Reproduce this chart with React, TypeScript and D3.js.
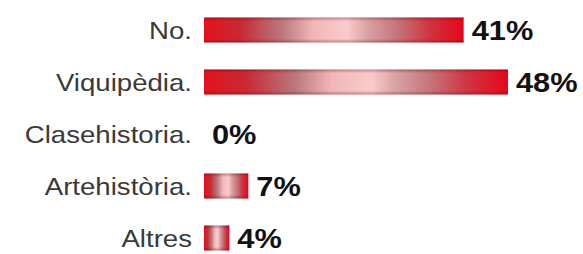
import React, { useEffect, useRef } from "react";
import * as d3 from "d3";

// survey results, percent
const categories = ["No.", "Viquipèdia.", "Clasehistoria.", "Artehistòria.", "Altres"];
const values = [41, 48, 0, 7, 4];

const W = 583;
const H = 254;

const App = () => {
    const container = useRef<SVGSVGElement>(null);

    useEffect(() => {
        const svg = d3.select(container.current);
        svg.selectAll("*").remove();

        const y = d3.scalePoint<string>()
            .domain(categories)
            .range([30, 238]);

        const x = d3.scaleLinear()
            .domain([0, 48])
            .range([204, 508]);

        const barH = 25;

        // bar fill: red ends, washed-out pink middle
        const defs = svg.append("defs");
        const grad = defs.append("linearGradient")
            .attr("id", "barGrad")
            .attr("x1", "0").attr("x2", "1").attr("y1", "0").attr("y2", "0");
        const stops: [number, string][] = [
            [0, "#e3121c"],
            [0.14, "#c82a34"],
            [0.3, "#b9787e"],
            [0.42, "#f2b6b8"],
            [0.55, "#f9cccc"],
            [0.63, "#d9a2a4"],
            [0.74, "#c5767c"],
            [0.87, "#cf3440"],
            [1, "#e6061a"],
        ];
        stops.forEach(([o, c]) => {
            grad.append("stop").attr("offset", o).attr("stop-color", c);
        });

        const shade = defs.append("linearGradient")
            .attr("id", "barShade")
            .attr("x1", "0").attr("x2", "0").attr("y1", "0").attr("y2", "1");
        shade.append("stop").attr("offset", 0).attr("stop-color", "#600010").attr("stop-opacity", 0.35);
        shade.append("stop").attr("offset", 0.15).attr("stop-color", "#600010").attr("stop-opacity", 0);
        shade.append("stop").attr("offset", 0.85).attr("stop-color", "#600010").attr("stop-opacity", 0);
        shade.append("stop").attr("offset", 1).attr("stop-color", "#600010").attr("stop-opacity", 0.35);

        const rows = categories.map((c, i) => ({ key: c, value: values[i] }));

        const bars = rows.filter((d) => d.value > 0);

        svg.selectAll("rect.bar")
            .data(bars)
            .enter()
            .append("rect")
            .attr("class", "bar")
            .attr("x", x(0))
            .attr("y", (d) => (y(d.key) as number) - barH / 2)
            .attr("width", (d) => x(d.value) - x(0))
            .attr("height", barH)
            .attr("fill", "url(#barGrad)");

        svg.selectAll("rect.shade")
            .data(bars)
            .enter()
            .append("rect")
            .attr("class", "shade")
            .attr("x", x(0))
            .attr("y", (d) => (y(d.key) as number) - barH / 2)
            .attr("width", (d) => x(d.value) - x(0))
            .attr("height", barH)
            .attr("fill", "url(#barShade)");

        // category labels
        svg.selectAll("text.cat")
            .data(rows)
            .enter()
            .append("text")
            .attr("class", "cat")
            .attr("transform", (d) => `translate(192,${(y(d.key) as number) + 9}) scale(1.15,1)`)
            .attr("text-anchor", "end")
            .attr("font-family", "Liberation Sans, Arial, sans-serif")
            .attr("font-size", 24)
            .attr("fill", "#3a3a3a")
            .text((d) => d.key);

        // value labels
        svg.selectAll("text.val")
            .data(rows)
            .enter()
            .append("text")
            .attr("class", "val")
            .attr("transform", (d) => `translate(${x(d.value) + 8},${(y(d.key) as number) + 10}) scale(1.14,1)`)
            .attr("font-family", "Liberation Sans, Arial, sans-serif")
            .attr("font-weight", "bold")
            .attr("font-size", 27)
            .attr("fill", "#111")
            .text((d) => d.value + "%");
    }, []);

    return (
        <svg
            ref={container}
            width={W}
            height={H}
            style={{ position: "absolute", left: 0, top: 0, background: "#fff" }}
        />
    );
};

export default App;
